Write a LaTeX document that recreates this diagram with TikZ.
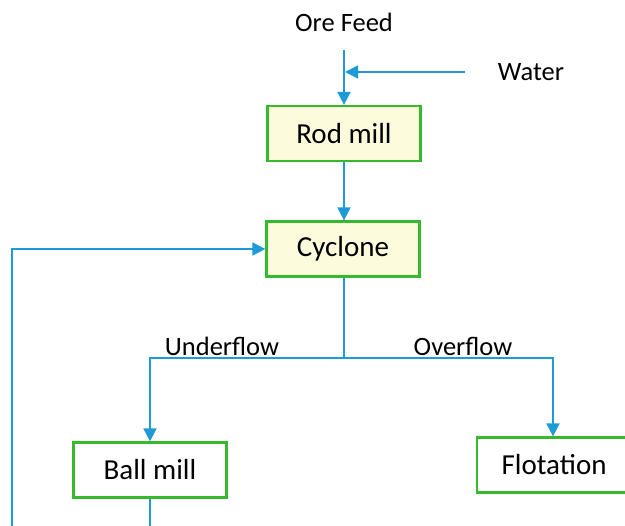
\documentclass[tikz,border=0pt]{standalone}
\usepackage{fontspec}
\setmainfont{Carlito}
\usetikzlibrary{arrows.meta}
\definecolor{flowblue}{RGB}{30,155,215}
\definecolor{boxgreen}{RGB}{55,185,45}
\definecolor{boxfill}{RGB}{252,252,220}
\tikzset{
  unitbox/.style={draw=boxgreen, line width=2.2pt, minimum width=153pt, minimum height=55pt, inner sep=0pt, font=\fontsize{29}{32}\selectfont, text=black},
  yellowbox/.style={unitbox, fill=boxfill},
  whitebox/.style={unitbox, fill=white},
  lbl/.style={font=\fontsize{26.5}{30}\selectfont, text=black, inner sep=0pt},
  flow/.style={draw=flowblue, line width=1.7pt},
  flowarrow/.style={flow, -{Triangle[length=13pt,width=13pt]}}
}
\begin{document}
\begin{tikzpicture}[x=1pt,y=1pt]
\useasboundingbox[fill=white] (0,0) rectangle (625,-526);
% nodes
\node[lbl] (ore) at (344,-22) {Ore Feed};
\node[lbl] (water) at (531,-72) {Water};
\node[yellowbox] (rod) at (344,-133.5) {Rod mill};
\node[yellowbox] (cyc) at (343,-249) {Cyclone};
\node[whitebox] (ball) at (150,-470) {Ball mill};
\node[whitebox, minimum width=160pt, anchor=west] (flot) at (476,-465) {\hspace*{-6pt}Flotation};
\node[lbl] (under) at (222,-346) {Underflow};
\node[lbl] (over) at (463,-346) {Overflow};
% coordinates
\coordinate (feedtop) at (344,-50);
\coordinate (join) at (344,-72);
\coordinate (waterstart) at (465,-72);
\coordinate (split) at (344,-358);
\coordinate (ufcorner) at (150,-358);
\coordinate (ofcorner) at (553,-358);
\coordinate (recyclebottom) at (12,-526);
\coordinate (recycletop) at (12,-249);
\coordinate (ballout) at (150,-526);
% connectors
\draw[flowarrow] (feedtop) -- (rod.north);
\draw[flowarrow] (waterstart) -- ([xshift=1pt]join);
\draw[flowarrow] (rod.south) -- (cyc.north -| rod.south);
\draw[flow] (cyc.south -| split) -- (split);
\draw[flowarrow] (split) -- (ufcorner) -- (ball.north);
\draw[flowarrow] (split) -- (ofcorner) -- (ofcorner |- flot.north);
\draw[flowarrow] (recyclebottom) -- (recycletop) -- (cyc.west);
\draw[flow] (ball.south) -- (ballout);
\end{tikzpicture}
\end{document}
